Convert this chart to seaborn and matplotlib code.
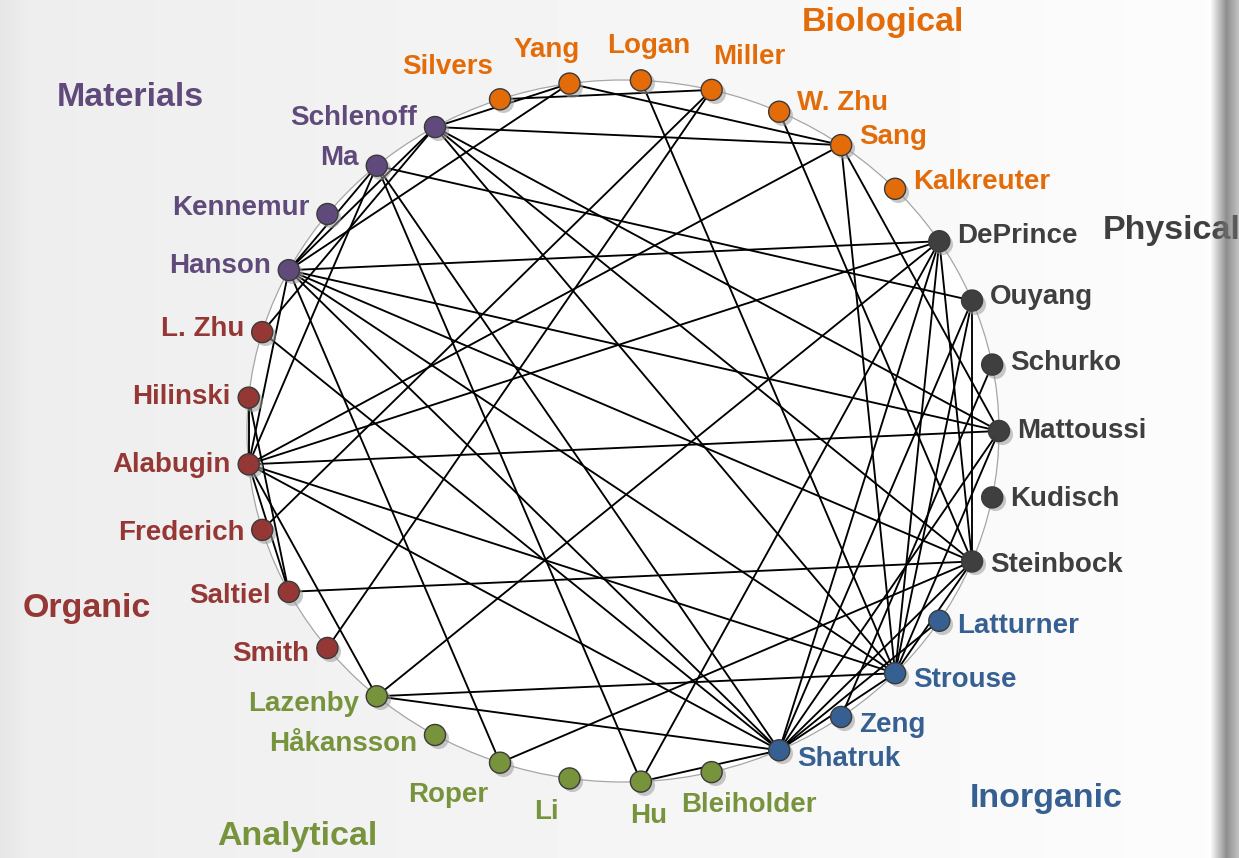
import numpy as np
import pandas as pd
import matplotlib
matplotlib.use("Agg")
import matplotlib.pyplot as plt
import matplotlib.transforms as mtransforms
from matplotlib.patches import Ellipse
from matplotlib.collections import LineCollection
import seaborn as sns

# departments, listed clockwise starting with Silvers at the top
biological = ["Silvers", "Yang", "Logan", "Miller", "W. Zhu", "Sang", "Kalkreuter"]
physical = ["DePrince", "Ouyang", "Schurko", "Mattoussi", "Kudisch", "Steinbock"]
inorganic = ["Latturner", "Strouse", "Zeng", "Shatruk"]
analytical = ["Bleiholder", "Hu", "Li", "Roper", "Håkansson", "Lazenby"]
organic = ["Smith", "Saltiel", "Frederich", "Alabugin", "Hilinski", "L. Zhu"]
materials = ["Hanson", "Kennemur", "Ma", "Schlenoff"]

group_names = ["Biological", "Physical", "Inorganic", "Analytical", "Organic", "Materials"]
group_members = [biological, physical, inorganic, analytical, organic, materials]

# collaborations (pairs of people)
edges = [
    ("Silvers", "Miller"),
    ("Yang", "Schlenoff"), ("Yang", "Hanson"), ("Yang", "Sang"),
    ("Logan", "Strouse"),
    ("Miller", "Frederich"), ("Miller", "Smith"),
    ("W. Zhu", "Steinbock"),
    ("Sang", "Schlenoff"), ("Sang", "Alabugin"), ("Sang", "Mattoussi"), ("Sang", "Strouse"),
    ("Schlenoff", "Hanson"), ("Schlenoff", "Mattoussi"), ("Schlenoff", "Strouse"),
    ("Schlenoff", "Steinbock"), ("Schlenoff", "L. Zhu"),
    ("Ma", "Hanson"), ("Ma", "Ouyang"), ("Ma", "Hu"), ("Ma", "Shatruk"), ("Ma", "Alabugin"),
    ("Hanson", "DePrince"), ("Hanson", "Mattoussi"), ("Hanson", "Steinbock"),
    ("Hanson", "Roper"), ("Hanson", "Alabugin"), ("Hanson", "Strouse"),
    ("Hanson", "Shatruk"),
    ("L. Zhu", "Shatruk"),
    ("Hilinski", "Alabugin"), ("Hilinski", "Saltiel"),
    ("Alabugin", "DePrince"), ("Alabugin", "Mattoussi"), ("Alabugin", "Strouse"),
    ("Alabugin", "Shatruk"), ("Alabugin", "Saltiel"), ("Alabugin", "Lazenby"),
    ("Saltiel", "Steinbock"),
    ("Lazenby", "DePrince"), ("Lazenby", "Strouse"), ("Lazenby", "Shatruk"),
    ("Roper", "Steinbock"),
    ("Hu", "DePrince"), ("Hu", "Shatruk"),
    ("DePrince", "Shatruk"), ("DePrince", "Strouse"), ("DePrince", "Steinbock"),
    ("Ouyang", "Steinbock"), ("Ouyang", "Shatruk"), ("Ouyang", "Strouse"),
    ("Schurko", "Zeng"),
    ("Mattoussi", "Shatruk"), ("Mattoussi", "Strouse"),
    ("Steinbock", "Shatruk"), ("Steinbock", "Strouse"),
    ("Latturner", "Shatruk"),
    ("Strouse", "Shatruk"),
]

colors = {
    "Biological": "#E36C09",
    "Physical": "#3F3F3F",
    "Inorganic": "#376092",
    "Analytical": "#77933C",
    "Organic": "#953735",
    "Materials": "#604A7B",
}

# circular layout
people = [p for members in group_members for p in members]
group_of = [g for g, members in zip(group_names, group_members) for _ in members]
n = len(people)
step = 360.0 / n
angles = np.deg2rad(step * 10 - step * np.arange(n))
nodes = pd.DataFrame({
    "name": people,
    "group": group_of,
    "x": np.cos(angles),
    "y": np.sin(angles),
})
pos = {r.name: (r.x, r.y) for r in nodes.itertuples(index=False)}

W, H = 1239, 858
cx, cy, rx, ry = 623, 431, 376, 351

sns.set_theme(style="white")
fig = plt.figure(figsize=(W / 100, H / 100), dpi=100)

# background: light grey page with a shadow on the right
bg = fig.add_axes([0, 0, 1, 1], zorder=0)
xs = np.linspace(0, 1, W)
shade = 0.93 + 0.06 * xs
shade[:30] -= np.linspace(0.03, 0, 30)
bg.imshow(np.tile(shade, (10, 1)), cmap="gray", vmin=0, vmax=1,
          aspect="auto", extent=[0, 1, 0, 1])
bg.set_axis_off()

ax = fig.add_axes([0, 0, 1, 1], zorder=1)
ax.patch.set_alpha(0)
ax.set_xlim(-cx / rx, (W - cx) / rx)
ax.set_ylim(-(H - cy) / ry, cy / ry)
ax.set_axis_off()

ax.add_patch(Ellipse((0, 0), 2, 2, facecolor="white", edgecolor="#a6a6a6",
                     linewidth=0.9, zorder=1))

segments = [[pos[a], pos[b]] for a, b in edges]
ax.add_collection(LineCollection(segments, colors="black", linewidths=1.35, zorder=2))

# drop shadow under the nodes
shadow = mtransforms.offset_copy(ax.transData, fig=fig, x=3, y=-3, units="dots")
ax.scatter(nodes["x"], nodes["y"], s=230, color="#9c9c9c", alpha=0.55,
           linewidths=0, transform=shadow, zorder=3)
sns.scatterplot(data=nodes, x="x", y="y", hue="group", palette=colors,
                s=230, edgecolor="#3a3a3a", linewidth=1.0, legend=False,
                ax=ax, zorder=4)
ax.set_xlabel("")
ax.set_ylabel("")

font = ["Liberation Sans", "DejaVu Sans"]
for r, a in zip(nodes.itertuples(index=False), angles):
    c, s = np.cos(a), np.sin(a)
    if c > 0.35:
        ha, dx, dy = "left", 18, 10 * s
    elif c < -0.35:
        ha, dx, dy = "right", -18, 10 * s
    else:
        ha, dx, dy = "center", 160 * c, 34 * s
    ax.annotate(r.name, (r.x, r.y), xytext=(dx, dy), textcoords="offset pixels",
                ha=ha, va="center", fontsize=20, fontweight="bold",
                color=colors[r.group], family=font, zorder=5)

# department titles
titles = {
    "Biological": (883, 22),
    "Materials": (130, 97),
    "Physical": (1172, 231),
    "Organic": (87, 608),
    "Analytical": (297, 836),
    "Inorganic": (1046, 798),
}
for g, (tx, ty) in titles.items():
    fig.text(tx / W, 1 - ty / H, g, ha="center", va="center", fontsize=24.5,
             fontweight="bold", color=colors[g], family=font, zorder=6)

# right-hand page shadow
top = fig.add_axes([0, 0, 1, 1], zorder=10)
band = np.zeros((10, W, 4))
cols = np.arange(W)
ramp = np.clip((cols - 1210) / 16.0, 0, 1)
ramp = np.where(cols > 1226, 1 - 0.5 * (cols - 1226) / 13.0, ramp)
band[..., :3] = 0.45
band[..., 3] = np.tile(ramp * 0.8, (10, 1))
top.imshow(band, aspect="auto", extent=[0, 1, 0, 1])
top.set_axis_off()
top.patch.set_alpha(0)

fig.savefig("out.png", dpi=100)
